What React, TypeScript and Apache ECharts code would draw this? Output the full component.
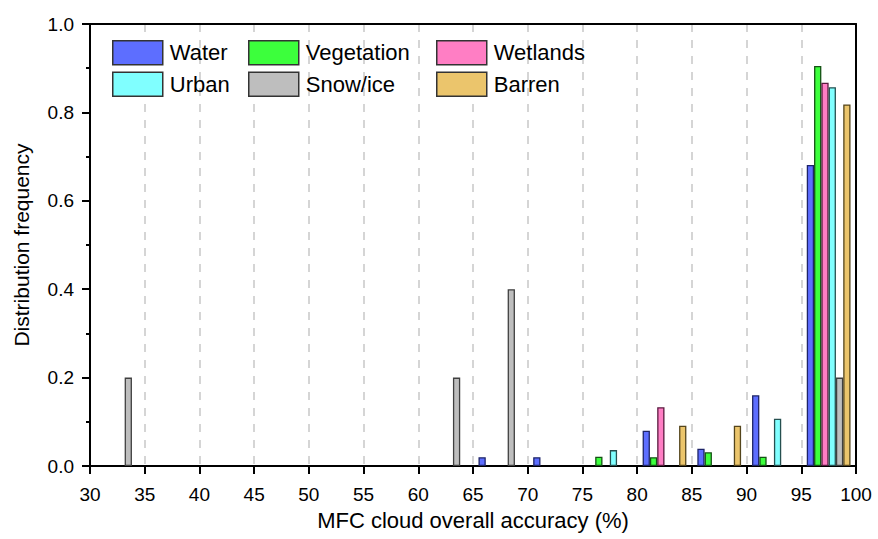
import React, { useEffect, useRef } from "react";
import * as echarts from "echarts";

const bins = ["30-35", "35-40", "40-45", "45-50", "50-55", "55-60", "60-65", "65-70", "70-75", "75-80", "80-85", "85-90", "90-95", "95-100"];
const xTicks = [30, 100, 5];
const yTicks = [0, 1, 0.2];

const water = [null, null, null, null, null, null, null, 0.02, 0.02, null, 0.08, 0.039, 0.16, 0.681];
const vegetation = [null, null, null, null, null, null, null, null, null, 0.021, 0.02, 0.031, 0.021, 0.905];
const wetlands = [null, null, null, null, null, null, null, null, null, null, 0.133, null, null, 0.867];
const urban = [null, null, null, null, null, null, null, null, null, 0.036, null, null, 0.107, 0.857];
const snow = [0.2, null, null, null, null, null, 0.2, 0.4, null, null, null, null, null, 0.2];
const barren = [null, null, null, null, null, null, null, null, null, null, 0.091, 0.091, null, 0.818];

const seriesDefs = [
  { name: "Water", data: water, fill: "#5D6EFF", border: "#1E2468" },
  { name: "Vegetation", data: vegetation, fill: "#3CFF3C", border: "#145214" },
  { name: "Wetlands", data: wetlands, fill: "#FF7EC4", border: "#5A1A3F" },
  { name: "Urban", data: urban, fill: "#80FFFF", border: "#265050" },
  { name: "Snow/ice", data: snow, fill: "#BEBEBE", border: "#404040" },
  { name: "Barren", data: barren, fill: "#EBC56C", border: "#54451C" },
];

const FONT = "'Liberation Sans', Arial, sans-serif";

export default function App() {
  const ref = useRef<HTMLDivElement>(null);
  useEffect(() => {
    if (!ref.current) return;
    const chart = echarts.init(ref.current, null, { renderer: "svg" });
    const legendCol = (names: string[], left: number) => ({
      data: names,
      orient: "vertical",
      left,
      top: 40,
      itemWidth: 50,
      itemHeight: 24,
      itemGap: 6,
      padding: 0,
      icon: "rect",
      itemStyle: { borderColor: "#333", borderWidth: 1.5 },
      textStyle: { fontFamily: FONT, fontSize: 22, color: "#000", padding: [0, 0, 0, 2] },
    });
    const frameLine = { show: true, onZero: false, lineStyle: { color: "#000", width: 2 } };
    chart.setOption({
      animation: false,
      backgroundColor: "#fff",
      grid: {
        left: 90,
        right: 22,
        top: 24,
        bottom: 73,
      },
      legend: [
        legendCol(["Water", "Urban"], 112),
        legendCol(["Vegetation", "Snow/ice"], 248),
        legendCol(["Wetlands", "Barren"], 436),
      ],
      xAxis: [
        {
          type: "value",
          position: "bottom",
          min: xTicks[0],
          max: xTicks[1],
          interval: xTicks[2],
          name: "MFC cloud overall accuracy (%)",
          nameLocation: "middle",
          nameGap: 43,
          nameTextStyle: { fontFamily: FONT, fontSize: 22, color: "#000" },
          axisLine: frameLine,
          axisTick: { show: true, length: 8, lineStyle: { color: "#000", width: 2 } },
          axisLabel: { fontFamily: FONT, fontSize: 19, color: "#000", margin: 19 },
          splitLine: { show: true, lineStyle: { color: "#C8C8C8", type: [8, 8], width: 1.5 } },
        },
        {
          type: "category",
          data: bins,
          show: false,
          boundaryGap: true,
        },
        {
          type: "value",
          position: "top",
          min: xTicks[0],
          max: xTicks[1],
          interval: xTicks[2],
          axisLine: frameLine,
          axisTick: { show: false },
          axisLabel: { show: false },
          splitLine: { show: false },
        },
      ],
      yAxis: [
        {
          type: "value",
          position: "left",
          min: yTicks[0],
          max: yTicks[1],
          interval: yTicks[2],
          name: "Distribution frequency",
          nameLocation: "middle",
          nameGap: 58,
          nameTextStyle: { fontFamily: FONT, fontSize: 21, color: "#000" },
          axisLine: frameLine,
          axisTick: { show: true, length: 8, lineStyle: { color: "#000", width: 2 } },
          minorTick: { show: true, splitNumber: 2, length: 4, lineStyle: { color: "#000", width: 2 } },
          axisLabel: {
            fontFamily: FONT,
            fontSize: 19,
            color: "#000",
            margin: 16,
            formatter: (v: number) => v.toFixed(1),
          },
          splitLine: { show: false },
        },
        {
          type: "value",
          position: "right",
          min: yTicks[0],
          max: yTicks[1],
          interval: yTicks[2],
          axisLine: frameLine,
          axisTick: { show: false },
          axisLabel: { show: false },
          splitLine: { show: false },
        },
      ],
      series: seriesDefs.map((s) => ({
        name: s.name,
        type: "bar",
        xAxisIndex: 1,
        yAxisIndex: 0,
        data: s.data,
        barGap: "0%",
        barCategoryGap: "20%",
        itemStyle: { color: s.fill, borderColor: s.border, borderWidth: 1.3 },
      })),
    });
    return () => chart.dispose();
  }, []);
  return (
    <div
      ref={ref}
      style={{ position: "fixed", left: 0, top: 0, width: 878, height: 539 }}
    />
  );
}
